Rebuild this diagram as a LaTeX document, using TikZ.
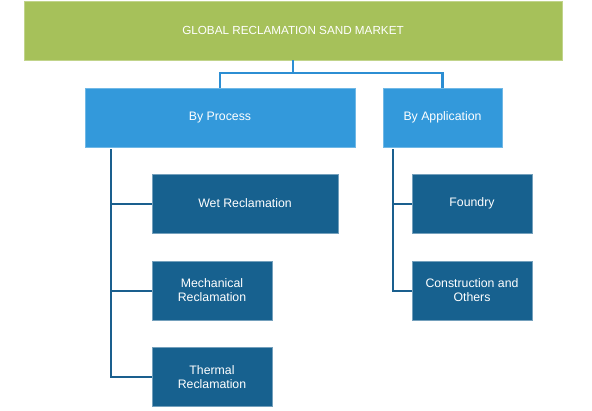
\documentclass[tikz,border=0pt]{standalone}
\usepackage{fontspec}
\setmainfont{Liberation Sans}
\definecolor{cgreen}{HTML}{A6C15A}
\definecolor{clight}{HTML}{3399DB}
\definecolor{cdark}{HTML}{17618F}
\definecolor{clinetop}{HTML}{2C8ED3}
\definecolor{clineside}{HTML}{1A5F8E}
\begin{document}
\begin{tikzpicture}[x=1pt,y=-1pt,
  box/.style={rectangle, inner sep=0pt, minimum height=59pt, text=white, align=center,
    font=\fontsize{12.3}{14}\selectfont},
  topbox/.style={box, fill=cgreen, draw=cgreen!70!white, line width=0.6pt,
    font=\fontsize{11.7}{14}\selectfont},
  midbox/.style={box, fill=clight, draw=clight!70!white, line width=0.6pt},
  leafbox/.style={box, fill=cdark, draw=cdark!60!white, line width=0.6pt},
  topline/.style={draw=clinetop, line width=2.4pt},
  sideline/.style={draw=clineside, line width=2pt}]
\useasboundingbox (0,0) rectangle (592,410);
\node[topbox, minimum width=538pt] (top) at (293,30.5) {GLOBAL RECLAMATION SAND MARKET};
\node[midbox, minimum width=270pt] (proc) at (220,117.5) {By Process};
\node[midbox, minimum width=119pt] (app) at (442.5,117.5) {By Application};
\node[leafbox, minimum width=186pt] (wet) at (245,203.5) {Wet Reclamation};
\node[leafbox, minimum width=120pt] (mech) at (212,290.5) {Mechanical\\Reclamation};
\node[leafbox, minimum width=120pt] (therm) at (212,377) {Thermal\\Reclamation};
\node[leafbox, minimum width=120pt] (found) at (472,203.5) {Foundry};
\node[leafbox, minimum width=120pt] (constr) at (472,290.5) {Construction and\\Others};
\coordinate (j) at (293,73);
\draw[topline] (top.south) -- (j);
\draw[topline] (proc.north) -- (proc.north |- j) -- (app.north |- j) -- (app.north);
\coordinate (ps) at (111,149);
\draw[sideline] (ps) |- (therm.west);
\draw[sideline] (ps |- wet.west) -- (wet.west);
\draw[sideline] (ps |- mech.west) -- (mech.west);
\coordinate (as) at (393,149);
\draw[sideline] (as) |- (constr.west);
\draw[sideline] (as |- found.west) -- (found.west);
\end{tikzpicture}
\end{document}
